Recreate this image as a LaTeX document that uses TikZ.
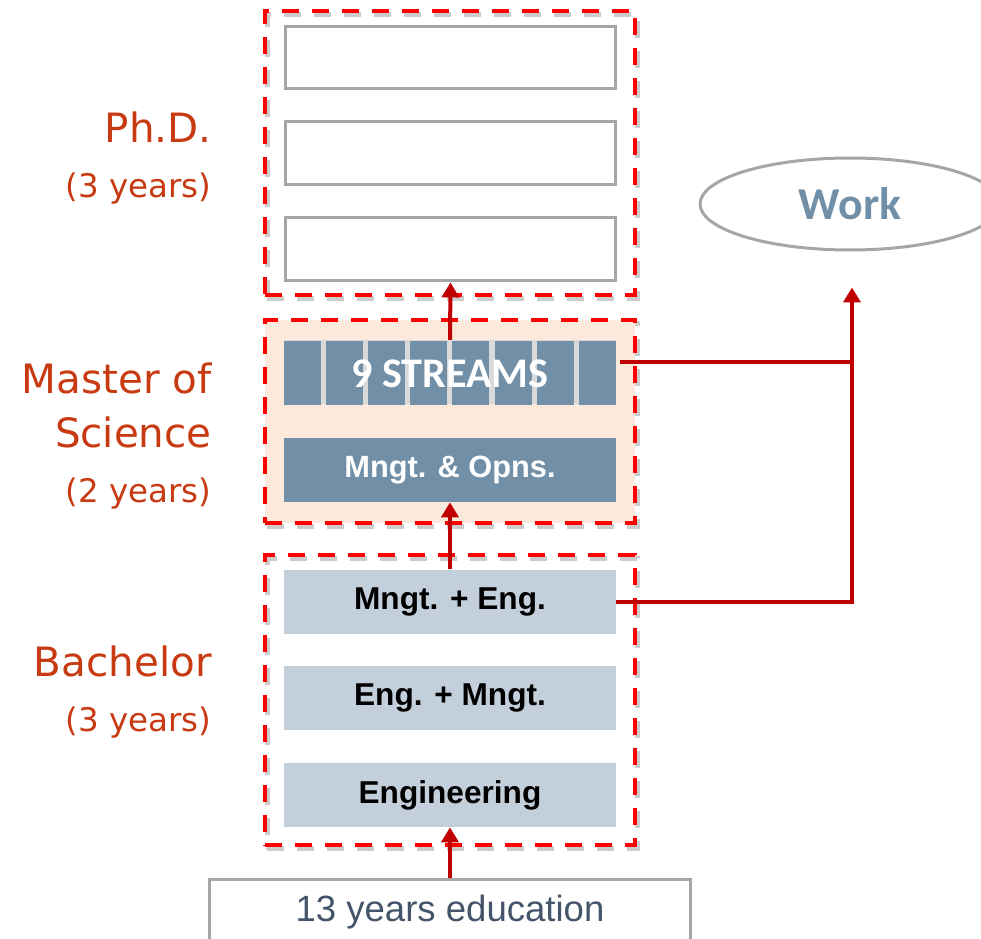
\documentclass[tikz,border=0pt]{standalone}
\usepackage{fontspec}
\setmainfont{DejaVu Sans}
\newfontfamily\arialfont{Liberation Sans}
\newfontfamily\calibrifont{Carlito}
\usepackage{xcolor}
\usepackage{tikz}
\usetikzlibrary{arrows.meta,shapes.geometric,positioning,calc}

\definecolor{stagered}{RGB}{255,0,0}
\definecolor{arrowred}{RGB}{192,0,0}
\definecolor{labelred}{RGB}{200,58,18}
\definecolor{slotgray}{RGB}{166,166,166}
\definecolor{steelblue}{RGB}{113,144,168}
\definecolor{paleblue}{RGB}{195,207,218}
\definecolor{mscfill}{RGB}{252,233,219}
\definecolor{sepgray}{RGB}{217,217,217}
\definecolor{slate}{RGB}{68,84,106}

\begin{document}
\begin{tikzpicture}[x=0.02cm,y=0.02cm,
  stage/.style={draw=stagered,line width=0.08cm,dash pattern=on 0.34cm off 0.26cm,
                minimum width=7.4cm,
                preaction={draw=black!20,line width=0.1cm,dash pattern=on 0.34cm off 0.26cm,
                           transform canvas={xshift=1.2pt,yshift=-1.8pt}}},
  slot/.style={draw=slotgray,line width=0.06cm,minimum width=6.62cm,minimum height=1.26cm},
  bsc/.style={fill=paleblue,minimum width=6.64cm,minimum height=1.28cm,
              font=\arialfont\bfseries\fontsize{18}{21}\selectfont},
  msc/.style={fill=steelblue,text=white,minimum width=6.64cm,minimum height=1.28cm,
              font=\arialfont\bfseries\fontsize{17.5}{21}\selectfont},
  level/.style={anchor=east,align=right,inner sep=0pt,text=labelred,
                font=\fontsize{23}{31}\selectfont},
  link/.style={draw=arrowred,line width=0.08cm},
  up/.style={link,-{Triangle[length=0.3cm,width=0.34cm]}}]
  \useasboundingbox (0,0) rectangle (981,-939);

  % the three stages
  \node[stage,minimum height=5.68cm] (phd) at (450,-153) {};
  \node[stage,fill=mscfill,minimum height=4.06cm] (msc) at (450,-421.5) {};
  \node[stage,minimum height=5.8cm] (bsc) at (450,-700) {};

  \node[level] (phdlbl) at (212,-158) {Ph.D.\\{\fontsize{18.5}{31}\selectfont (3 years)}};
  \node[level] (msclbl) at (212,-436) {Master of\\Science\\{\fontsize{18.5}{31}\selectfont (2 years)}};
  \node[level] (bsclbl) at (212,-692) {Bachelor\\{\fontsize{18.5}{31}\selectfont (3 years)}};

  % Ph.D.
  \node[slot] (slot1) at (450.5,-57.5) {};
  \node[slot,below=0.6cm of slot1] (slot2) {};
  \node[slot,below=0.6cm of slot2] (slot3) {};

  % Master of Science
  \node[msc] (opns) at (450,-470) {Mngt. \& Opns.};
  \node[msc,fill=sepgray,above=0.66cm of opns] (streams) {};
  \foreach \i in {0,...,7}
    \fill[steelblue] ($(streams.south west)+(\i*42.2,0)$) rectangle ++(37,64);
  \node[text=white,font=\calibrifont\bfseries\fontsize{24}{28}\selectfont] (streamstxt)
    at ($(streams)+(0,-2)$) {9 STREAMS};

  % Bachelor
  \node[bsc] (eng) at (450,-795) {Engineering};
  \node[bsc,above=0.64cm of eng] (engmngt) {Eng. + Mngt.};
  \node[bsc,above=0.64cm of engmngt] (mngteng) {Mngt. + Eng.};

  \node[draw=slotgray,line width=0.06cm,minimum width=9.64cm,minimum height=1.32cm,
        text=slate,font=\arialfont\fontsize{20.8}{24}\selectfont] (school) at (450,-912) {13 years education};

  \node[draw=slotgray,line width=0.06cm,ellipse,minimum width=6cm,minimum height=1.84cm,
        text=steelblue,font=\calibrifont\bfseries\fontsize{26}{30}\selectfont] (work) at (850,-204) {Work};

  \draw[up] (school.north) -- (eng.south);
  \draw[up] (mngteng.north) -- (opns.south);
  \draw[up] (streams.north) -- (slot3.south);

  \coordinate (workin) at ($(work.south)+(2,-36)$);
  \coordinate (streamsout) at ($(streams.east)+(4,10)$);
  \draw[up] (mngteng.east) -| (workin);
  \draw[link] (streamsout) -- (streamsout -| workin);
\end{tikzpicture}
\end{document}
